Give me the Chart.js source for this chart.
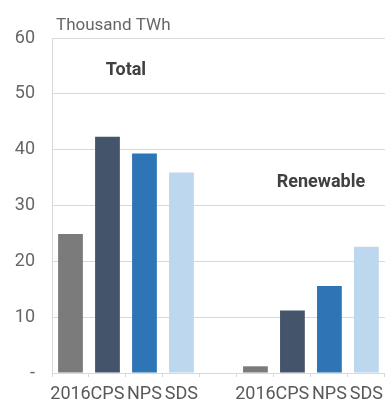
<!DOCTYPE html>
<html>
<head>
<meta charset="utf-8">
<script src="https://cdn.jsdelivr.net/npm/chart.js@4/dist/chart.umd.min.js"></script>
<style>
  html, body { margin: 0; padding: 0; background: #ffffff; overflow: hidden; }
  #wrap { width: 390px; height: 403px; }
</style>
</head>
<body>
<div id="wrap"><canvas id="c" width="390" height="403"></canvas></div>
<script>
// Electricity generation by scenario, thousand TWh
const categories = ['2016', 'CPS', 'NPS', 'SDS', '', '2016', 'CPS', 'NPS', 'SDS'];
const generation = [24.9, 42.3, 39.3, 35.9, null, 1.2, 11.2, 15.6, 22.6];
const barColors = ['#7b7b7b', '#44546a', '#2e75b6', '#bdd7ee', '#ffffff', '#7b7b7b', '#44546a', '#2e75b6', '#bdd7ee'];
const yTicks = [0, 10, 20, 30, 40, 50, 60];
const unitLabel = 'Thousand TWh';
const groupLabels = ['Total', 'Renewable'];

const FONT = 'Roboto, "Liberation Sans", sans-serif';

// Unit caption and group headings drawn on top of the plot
const headings = {
  id: 'headings',
  afterDraw(chart) {
    const { ctx, chartArea, scales } = chart;
    const x = scales.x, y = scales.y;
    ctx.save();
    ctx.fillStyle = '#666666';
    ctx.font = '17px ' + FONT;
    ctx.textAlign = 'left';
    ctx.textBaseline = 'alphabetic';
    ctx.fillText(unitLabel, chartArea.left + 4, chartArea.top - 8.5);

    ctx.fillStyle = '#404040';
    ctx.font = 'bold 18px ' + FONT;
    ctx.textAlign = 'center';
    ctx.textBaseline = 'middle';
    ctx.fillText(groupLabels[0], x.getPixelForValue(1.5), y.getPixelForValue(54.2));
    ctx.fillText(groupLabels[1], x.getPixelForValue(6.77), y.getPixelForValue(34.2));
    ctx.restore();
  }
};

new Chart(document.getElementById('c'), {
  type: 'bar',
  data: {
    labels: categories,
    datasets: [{
      data: generation,
      backgroundColor: barColors,
      borderWidth: 0,
      categoryPercentage: 1,
      barPercentage: 0.67
    }]
  },
  options: {
    responsive: false,
    devicePixelRatio: 1,
    animation: false,
    layout: { padding: { top: 38, left: 0, right: 0, bottom: 0 } },
    plugins: {
      legend: { display: false },
      tooltip: { enabled: false }
    },
    scales: {
      x: {
        offset: true,
        grid: {
          display: true,
          offset: true,
          drawOnChartArea: false,
          drawTicks: true,
          tickLength: 4,
          color: '#d9d9d9'
        },
        border: { display: true, color: '#d9d9d9', width: 1 },
        ticks: {
          color: '#595959',
          font: { family: FONT, size: 18 },
          padding: 7,
          maxRotation: 0,
          autoSkip: false
        },
        afterFit(scale) { scale.height = 30; }
      },
      y: {
        min: 0,
        max: 60,
        afterBuildTicks(scale) { scale.ticks = yTicks.map(v => ({ value: v })); },
        grid: {
          color: '#d9d9d9',
          drawTicks: false,
          lineWidth: 1
        },
        border: { display: true, color: '#d9d9d9', width: 1 },
        ticks: {
          color: '#666666',
          font: { family: FONT, size: 18 },
          padding: 17,
          callback: (v) => (v === 0 ? '-' : String(v))
        },
        afterFit(scale) { scale.width = 52; }
      }
    }
  },
  plugins: [headings]
});
</script>
</body>
</html>
